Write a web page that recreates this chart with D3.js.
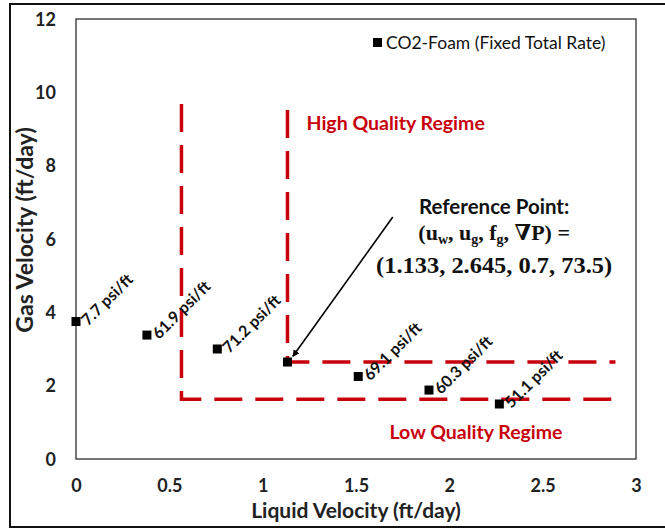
<!DOCTYPE html>
<html>
<head>
<meta charset="utf-8">
<script src="https://cdn.jsdelivr.net/npm/d3@7/dist/d3.min.js"></script>
<style>
  html, body { margin: 0; padding: 0; background: #fff; }
  svg { display: block; }
</style>
</head>
<body>
<div id="chart"></div>
<script>
'use strict';

/* ── Data ── */
const liquidVel = [0, 0.38, 0.757, 1.133, 1.512, 1.891, 2.268];
const gasVel = [3.75, 3.38, 3.0, 2.645, 2.25, 1.88, 1.5];
const gradLabels = ['7.7 psi/ft', '61.9 psi/ft', '71.2 psi/ft', '', '69.1 psi/ft', '60.3 psi/ft', '51.1 psi/ft'];
const xTicks = [0, 0.5, 1, 1.5, 2, 2.5, 3];
const yTicks = [0, 2, 4, 6, 8, 10, 12];
// regime boundaries (liquid, gas)
const lowBoundary = [[0.565, 9.68], [0.565, 1.63], [2.875, 1.63]];
const highBoundary = [[1.133, 9.52], [1.133, 2.645], [2.89, 2.645]];
const arrowPath = [[1.697, 6.6], [1.162, 2.80]];

const W = 665, H = 529;
const svg = d3.select('#chart').append('svg')
  .attr('width', W).attr('height', H);

const defs = svg.append('defs');
defs.append('marker')
  .attr('id', 'arrow')
  .attr('viewBox', '0 0 10 10')
  .attr('refX', 9).attr('refY', 5)
  .attr('markerWidth', 7).attr('markerHeight', 7)
  .attr('markerUnits', 'userSpaceOnUse')
  .attr('orient', 'auto')
  .append('path').attr('d', 'M0,0 L10,5 L0,10 z').attr('fill', '#000');

/* ── outer frame ── */
svg.append('rect')
  .attr('x', 10).attr('y', 4).attr('width', 670).attr('height', 523)
  .attr('fill', 'none').attr('stroke', '#111').attr('stroke-width', 2);

const x = d3.scaleLinear().domain([0, 3]).range([76, 636]);
const y = d3.scaleLinear().domain([0, 12]).range([459, 19]);

/* ── plot frame ── */
svg.append('rect')
  .attr('x', x(0)).attr('y', y(12))
  .attr('width', x(3) - x(0)).attr('height', y(0) - y(12))
  .attr('fill', 'none').attr('stroke', '#4a4a4a').attr('stroke-width', 1.5);

const font = 'Lato, "Open Sans", sans-serif';

/* ── axes ── */
const yAxis = svg.append('g')
  .attr('transform', 'translate(56,0)')
  .call(d3.axisLeft(y).tickValues(yTicks).tickSize(0).tickPadding(0));
const xAxis = svg.append('g')
  .attr('transform', `translate(0,${y(0) + 20})`)
  .call(d3.axisBottom(x).tickValues(xTicks).tickSize(0).tickPadding(0).tickFormat(d3.format('')));
[xAxis, yAxis].forEach(g => {
  g.select('.domain').remove();
  g.selectAll('text')
    .style('font-family', font).style('font-weight', 'bold')
    .style('font-size', '18px').attr('fill', '#222');
});
xAxis.selectAll('text').attr('dy', '0.71em');
yAxis.selectAll('text').attr('dy', '0.35em').attr('text-anchor', 'end');

svg.append('text')
  .attr('x', 356).attr('y', 518)
  .attr('text-anchor', 'middle')
  .style('font-family', font).style('font-weight', 'bold').style('font-size', '21px')
  .attr('fill', '#222')
  .text('Liquid Velocity (ft/day)');

svg.append('text')
  .attr('transform', 'translate(33,230) rotate(-90)')
  .attr('text-anchor', 'middle')
  .style('font-family', font).style('font-weight', 'bold').style('font-size', '23px')
  .attr('fill', '#222')
  .text('Gas Velocity (ft/day)');

/* ── regime boundaries ── */
const line = d3.line().x(d => x(d[0])).y(d => y(d[1]));
[lowBoundary, highBoundary].forEach(b => {
  svg.append('path')
    .attr('d', line(b))
    .attr('fill', 'none')
    .attr('stroke', '#c8000c')
    .attr('stroke-width', 3.5)
    .attr('stroke-dasharray', '28,13');
});

svg.append('text')
  .attr('x', x(1.235)).attr('y', y(9.16))
  .attr('dy', '0.35em')
  .style('font-family', font).style('font-weight', 'bold').style('font-size', '19.5px')
  .attr('fill', '#c8000c')
  .text('High Quality Regime');

svg.append('text')
  .attr('x', x(2.143)).attr('y', y(0.72))
  .attr('dy', '0.35em').attr('text-anchor', 'middle')
  .style('font-family', font).style('font-weight', 'bold').style('font-size', '19.5px')
  .attr('fill', '#c8000c')
  .text('Low Quality Regime');

/* ── points ── */
const pts = liquidVel.map((v, i) => ({ lx: v, gy: gasVel[i], label: gradLabels[i] }));
const ms = 9;
svg.append('g').selectAll('rect')
  .data(pts).join('rect')
  .attr('x', d => x(d.lx) - ms / 2).attr('y', d => y(d.gy) - ms / 2)
  .attr('width', ms).attr('height', ms)
  .attr('fill', '#000');

svg.append('g').selectAll('text')
  .data(pts.filter(d => d.label)).join('text')
  .attr('transform', d => `translate(${x(d.lx) + 12},${y(d.gy) + 5}) rotate(-45)`)
  .style('font-family', font).style('font-weight', 'bold').style('font-size', '16px')
  .attr('fill', '#111')
  .text(d => d.label);

/* ── reference point annotation ── */
svg.append('line')
  .attr('x1', x(arrowPath[0][0])).attr('y1', y(arrowPath[0][1]))
  .attr('x2', x(arrowPath[1][0])).attr('y2', y(arrowPath[1][1]))
  .attr('stroke', '#000').attr('stroke-width', 1.6)
  .attr('marker-end', 'url(#arrow)');

const refX = x(2.24);
svg.append('text')
  .attr('x', refX).attr('y', 207).attr('dy', '0.35em')
  .attr('text-anchor', 'middle')
  .style('font-family', font).style('font-weight', 'bold').style('font-size', '20.5px')
  .attr('fill', '#111')
  .text('Reference Point:');

const serif = '"Liberation Serif", "DejaVu Serif", serif';
const eq = svg.append('text')
  .attr('x', refX).attr('y', 240)
  .attr('text-anchor', 'middle')
  .style('font-family', serif).style('font-weight', 'bold').style('font-size', '22px')
  .attr('fill', '#111');
const parts = [['(u', ''], ['w', 'sub'], [', u', ''], ['g', 'sub'], [', f', ''], ['g', 'sub'], [', \u2207P) =', '']];
parts.forEach(([t, k]) => {
  const ts = eq.append('tspan').text(t);
  if (k === 'sub') ts.attr('dy', 4).style('font-size', '14px');
  else if (t !== '(u') ts.attr('dy', -4);
});

svg.append('text')
  .attr('x', refX).attr('y', 273)
  .attr('text-anchor', 'middle')
  .attr('textLength', 236).attr('lengthAdjust', 'spacingAndGlyphs')
  .style('font-family', serif).style('font-weight', 'bold').style('font-size', '23px')
  .attr('fill', '#111')
  .text('(1.133, 2.645, 0.7, 73.5)');

/* ── legend ── */
svg.append('rect')
  .attr('x', 373).attr('y', 38).attr('width', 9).attr('height', 9).attr('fill', '#000');
svg.append('text')
  .attr('x', 386).attr('y', 43).attr('dy', '0.35em')
  .style('font-family', font).style('font-size', '17.5px')
  .attr('fill', '#111')
  .text('CO2-Foam (Fixed Total Rate)');
</script>
</body>
</html>
